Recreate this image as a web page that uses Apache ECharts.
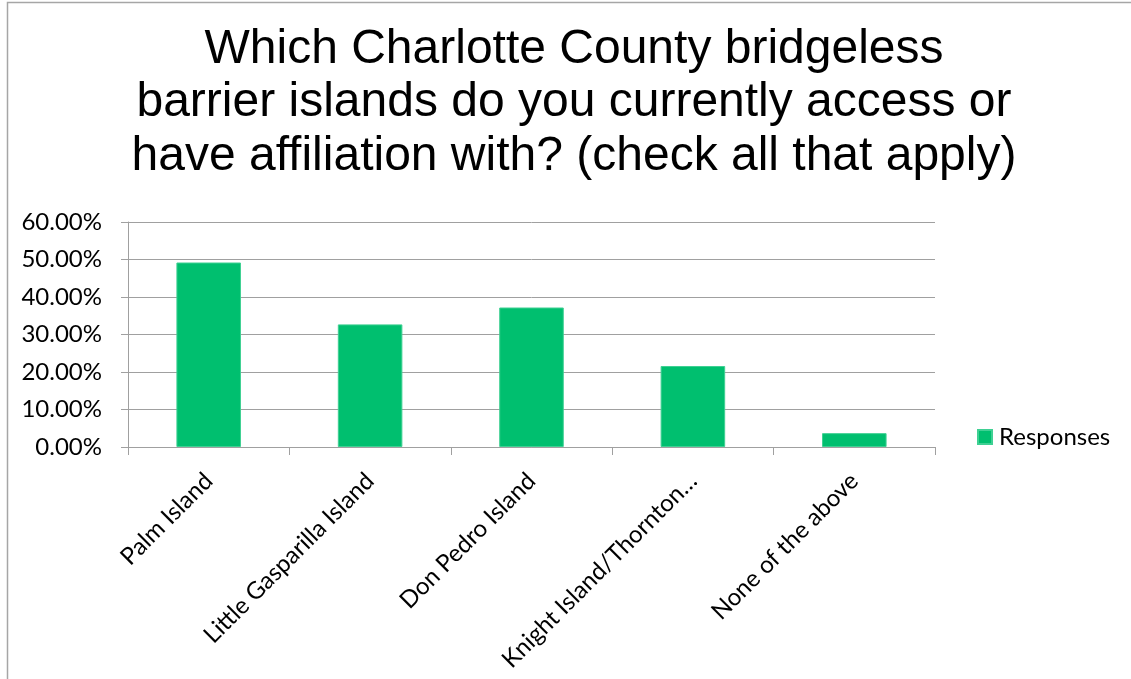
<!DOCTYPE html>
<html>
<head>
<meta charset="utf-8">
<script src="https://cdn.jsdelivr.net/npm/echarts@6/dist/echarts.min.js"></script>
<style>
html,body{margin:0;padding:0;background:#fff;}
#chart{width:1131px;height:679px;}
</style>
</head>
<body>
<div id="chart"></div>
<script>
const titleText = 'Which Charlotte County bridgeless\nbarrier islands do you currently access or\nhave affiliation with? (check all that apply)';
const categories = ['Palm Island', 'Little Gasparilla Island', 'Don Pedro Island', 'Knight Island/Thornton…', 'None of the above'];
const seriesName = 'Responses';
const responses = [49.2, 32.7, 37.2, 21.6, 3.7];
const yTicks = [0, 10, 20, 30, 40, 50, 60];

const chart = echarts.init(document.getElementById('chart'), null, {renderer: 'canvas'});
const gray = '#a0a0a0';
const labelFont = 'Lato';
chart.setOption({
  animation: false,
  backgroundColor: '#ffffff',
  title: {
    text: titleText,
    left: 574,
    top: 23,
    textAlign: 'center',
    padding: 0,
    textStyle: {
      fontFamily: 'Liberation Sans',
      fontSize: 48,
      fontWeight: 'normal',
      color: '#000000',
      lineHeight: 53.5
    }
  },
  legend: {
    data: [seriesName],
    left: 977,
    top: 425,
    padding: 0,
    itemWidth: 14,
    itemHeight: 14,
    icon: 'rect',
    textStyle: {
      fontFamily: labelFont,
      fontSize: 24,
      color: '#000000',
      padding: [0, 0, 0, 2]
    }
  },
  grid: {
    left: 128,
    right: 196,
    top: 222,
    bottom: 232,
    containLabel: false
  },
  xAxis: {
    type: 'category',
    data: categories,
    boundaryGap: true,
    axisLine: {show: true, lineStyle: {color: gray, width: 1}},
    axisTick: {show: true, length: 8, alignWithLabel: false, lineStyle: {color: gray, width: 1}},
    axisLabel: {
      rotate: 45,
      interval: 0,
      margin: 30,
      verticalAlign: 'middle',
      fontFamily: labelFont,
      fontSize: 24,
      color: '#000000'
    },
    splitLine: {show: false}
  },
  yAxis: {
    type: 'value',
    min: yTicks[0],
    max: yTicks[yTicks.length - 1],
    interval: 10,
    axisLine: {show: true, lineStyle: {color: gray, width: 1}},
    axisTick: {show: true, length: 7, lineStyle: {color: gray, width: 1}},
    axisLabel: {
      margin: 26,
      fontFamily: labelFont,
      fontSize: 24,
      color: '#000000',
      formatter: v => v.toFixed(2) + '%'
    },
    splitLine: {show: true, lineStyle: {color: gray, width: 1}}
  },
  series: [{
    name: seriesName,
    type: 'bar',
    data: responses,
    barWidth: '40%',
    itemStyle: {color: '#00BF6F', borderColor: '#3fd093', borderWidth: 1}
  }],
  graphic: [{
    type: 'rect',
    silent: true,
    shape: {x: 7.5, y: 2.5, width: 1300, height: 900},
    style: {fill: null, stroke: '#a6a6a6', lineWidth: 1.5}
  }]
});
</script>
</body>
</html>
